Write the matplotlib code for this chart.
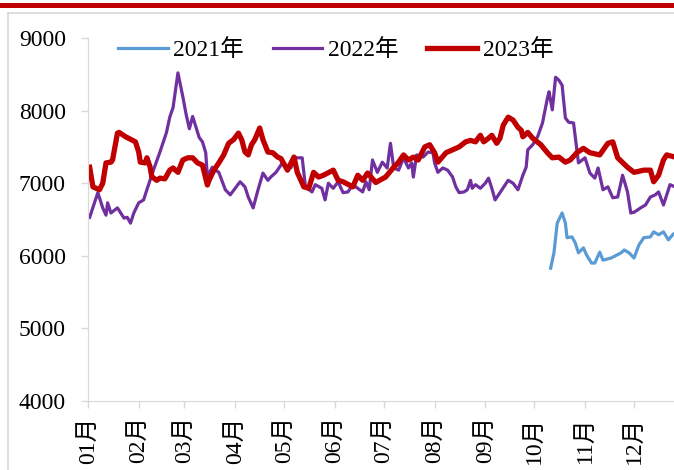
import matplotlib
matplotlib.use("Agg")
import matplotlib.pyplot as plt
from matplotlib.lines import Line2D

plt.rcParams['font.family'] = ['Liberation Serif', 'Noto Sans CJK SC']

# 数据: 年内天数 / 价格
month_ticks = [0, 31, 59, 90, 120, 151, 181, 212, 243, 273, 304, 334]
month_labels = ['01月', '02月', '03月', '04月', '05月', '06月',
                '07月', '08月', '09月', '10月', '11月', '12月']

days21 = [283, 285, 287, 290, 292, 293, 296, 298, 300, 303, 305, 308, 310, 313,
          315, 320, 326, 328, 331, 334, 337, 340, 344, 346, 349, 352, 355, 358, 359]
vals21 = [5830, 6040, 6450, 6590, 6450, 6250, 6260, 6180, 6040, 6110, 6010, 5900, 5900, 6050,
          5940, 5970, 6040, 6080, 6040, 5970, 6150, 6250, 6260, 6330, 6290, 6330, 6220, 6300, 6310]

days22 = [1, 6, 9, 11, 12, 14, 18, 22, 24, 26, 28, 31, 34, 36, 40, 44, 48, 50, 52, 55,
          58, 60, 62, 64, 68, 70, 72, 73, 76, 78, 80, 84, 87, 90, 93, 96, 98, 101, 104, 107,
          110, 112, 115, 118, 119, 121, 124, 127, 131, 133, 137, 139, 143, 145, 147, 150, 153, 156, 159, 162,
          165, 168, 170, 172, 174, 177, 180, 183, 185, 187, 190, 193, 196, 198, 199, 201, 205, 208, 211, 212,
          214, 217, 220, 223, 225, 227, 230, 232, 234, 235, 237, 240, 243, 245, 247, 249, 252, 257, 260, 263,
          266, 268, 269, 272, 275, 278, 281, 282, 284, 286, 288, 290, 292, 294, 297, 300, 304, 307, 310, 312,
          315, 318, 321, 324, 327, 330, 332, 334, 338, 341, 344, 347, 349, 352, 356, 359]
vals22 = [6530, 6870, 6660, 6560, 6730, 6590, 6660, 6520, 6530, 6450, 6590, 6730, 6770, 6910, 7180, 7430, 7700, 7910, 8040, 8520,
          8190, 7950, 7750, 7920, 7630, 7570, 7420, 7090, 7220, 7180, 7150, 6910, 6840, 6930, 7020, 6950, 6810, 6660, 6910, 7140,
          7040, 7090, 7150, 7250, 7290, 7220, 7210, 7350, 7350, 6950, 6880, 6980, 6930, 6770, 7000, 6930, 7020, 6870, 6880, 6980,
          6930, 6880, 7020, 6910, 7320, 7150, 7290, 7210, 7550, 7210, 7180, 7350, 7210, 7280, 7085, 7390, 7360, 7430, 7420, 7280,
          7150, 7210, 7180, 7085, 6950, 6870, 6880, 6910, 7040, 6930, 6980, 6930, 7000, 7070, 6930, 6770, 6870, 7040, 7000, 6910,
          7110, 7220, 7460, 7530, 7640, 7830, 8170, 8260, 8010, 8460, 8420, 8350, 7900, 7840, 7830, 7280, 7350, 7140, 7070, 7210,
          6910, 6950, 6800, 6810, 7110, 6880, 6590, 6600, 6660, 6700, 6810, 6840, 6880, 6700, 6980, 6950]

days23 = [1, 3, 7, 9, 11, 14, 15, 18, 19, 23, 29, 31, 32, 35, 36, 38, 39, 42, 44, 47,
          50, 52, 55, 58, 61, 64, 67, 70, 73, 74, 77, 80, 83, 86, 89, 92, 94, 96, 98, 100,
          102, 105, 107, 110, 113, 116, 118, 122, 126, 128, 132, 135, 138, 141, 144, 150, 153, 156, 162, 165,
          168, 171, 176, 182, 187, 190, 193, 196, 199, 202, 206, 209, 212, 214, 219, 223, 227, 231, 234, 237,
          240, 242, 245, 247, 250, 252, 254, 257, 260, 263, 265, 266, 269, 272, 277, 281, 284, 288, 292, 295,
          299, 303, 307, 313, 318, 321, 324, 330, 334, 340, 344, 346, 349, 352, 354, 359]
vals23 = [7220, 6950, 6910, 7000, 7280, 7290, 7320, 7690, 7700, 7640, 7570, 7430, 7290, 7280, 7350, 7220, 7090, 7040, 7070, 7060,
          7180, 7210, 7150, 7320, 7350, 7350, 7280, 7250, 6975, 7040, 7180, 7280, 7390, 7550, 7600, 7690, 7600, 7430, 7390, 7530,
          7600, 7760, 7600, 7430, 7420, 7360, 7340, 7180, 7360, 7150, 6950, 6930, 7150, 7085, 7110, 7180, 7040, 7020, 6950, 7110,
          7040, 7140, 7010, 7085, 7220, 7290, 7390, 7320, 7360, 7320, 7500, 7530, 7420, 7290, 7420, 7460, 7500, 7570, 7590, 7570,
          7660, 7570, 7620, 7660, 7550, 7620, 7800, 7910, 7870, 7770, 7730, 7640, 7700, 7620, 7530, 7420, 7350, 7360, 7290, 7320,
          7420, 7480, 7420, 7390, 7550, 7570, 7350, 7220, 7150, 7180, 7180, 7020, 7110, 7320, 7390, 7360]

fig = plt.figure(figsize=(6.74, 4.70), dpi=100)
ax = fig.add_axes([0.1306, 0.1468, 0.8853, 0.7723])

ax.plot(days21, vals21, color='#5B9BD5', lw=2.3, label='2021年')
ax.plot(days22, vals22, color='#7030A0', lw=2.3, label='2022年')
ax.plot(days23, vals23, color='#C00000', lw=3.8, label='2023年')

ax.set_xlim(0, 365)
ax.set_ylim(4000, 9000)
ax.set_yticks(range(4000, 9001, 1000))
ax.set_xticks(month_ticks)
ax.set_xticklabels(month_labels, rotation=90, fontsize=17)
ax.tick_params(axis='y', labelsize=17, pad=11)
ax.tick_params(axis='x', pad=6)
ax.tick_params(axis='both', direction='out', length=5, width=1, color='#D9D9D9')

for s in ['top', 'right']:
    ax.spines[s].set_visible(False)
for s in ['left', 'bottom']:
    ax.spines[s].set_color('#D9D9D9')

ax.legend(loc='center left', bbox_to_anchor=(118 / 674, 1 - 50 / 470),
          bbox_transform=fig.transFigure, ncol=3, frameon=False,
          borderpad=0, borderaxespad=0, handlelength=2.1, handletextpad=0.25,
          columnspacing=1.2, fontsize=17)

# 页面装饰线
fig.add_artist(Line2D([0, 1], [0.989, 0.989], transform=fig.transFigure, color='#C00000', lw=3.6))
fig.add_artist(Line2D([0.012, 1], [0.972, 0.972], transform=fig.transFigure, color='#D9D9D9', lw=1.2))
fig.add_artist(Line2D([0.012, 0.012], [0, 0.972], transform=fig.transFigure, color='#D9D9D9', lw=1.2))

fig.savefig('out.png', dpi=100)
